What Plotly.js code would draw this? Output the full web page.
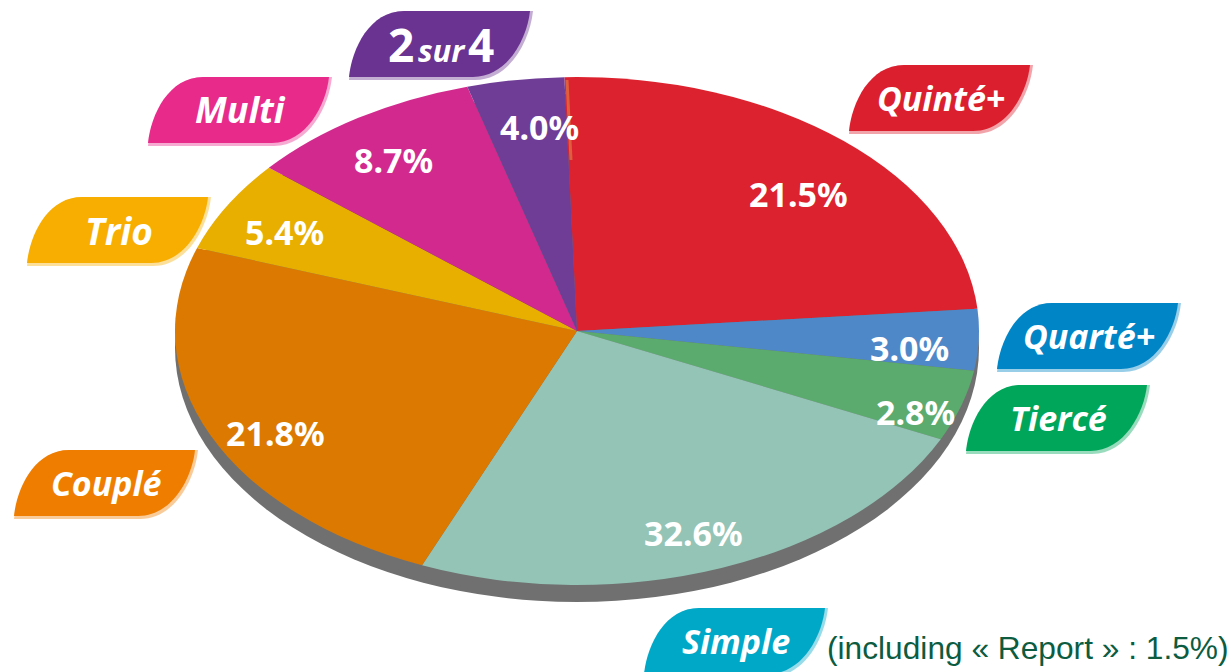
<!DOCTYPE html>
<html>
<head>
<meta charset="utf-8">
<script src="https://cdn.plot.ly/plotly-3.0.1.min.js"></script>
<style>
    html, body { margin: 0; padding: 0; background: #fff; }
    #chart { width: 1232px; height: 672px; }
</style>
</head>
<body>
<div id="chart"></div>
<script>
const betTypes = ["Quinté+", "Quarté+", "Tiercé", "Simple", "Couplé", "Trio", "Multi", "2 sur 4"];
// printed percentages
const percentLabels = ["21.5%", "3.0%", "2.8%", "32.6%", "21.8%", "5.4%", "8.7%", "4.0%"];
// the drawn wedges do not follow the printed numbers, so these are the shares as drawn
const drawnShares = [24.1, 3.9, 4.5, 24.3, 24.0, 5.8, 9.5, 3.9];
const startAngle = -1.8;

const sliceColors = ["#dc222e", "#4f88c9", "#5cab6e", "#94c4b6", "#dc7900", "#e8ae00", "#d2298e", "#6f3d96"];
const badgeColors = ["#dc1f2e", "#0085c7", "#00a65a", "#00a8c8", "#ef7d00", "#f7ae00", "#e82a8b", "#6a3291"];

// pixel layout of the picture
const badgeLeftTop = [[849, 65], [997, 303], [966, 385], [644, 608], [14, 450], [27, 197], [148, 77], [349, 11]];
const badgeFontSizes = [34, 34, 34, 34, 34, 37, 36, 31];
const percentCenters = [[798, 194], [909, 348], [915, 412], [693, 533], [275, 433], [284, 232], [393, 160], [539, 127]];
const ellipse = { cx: 577, cy: 331, rx: 402, ry: 254, shadow: 17 };

const px = x => x / 1232;
const py = y => 1 - y / 672;

function badgePath(left, top, w, h) {
    const p = (x, y) => px(left + x * w) + "," + py(top + y * h);
    return "M" + p(0, 1) + " C" + p(0.016, 0.57) + " " + p(0.114, 0) + " " + p(0.304, 0) +
        " L" + p(1, 0) + " C" + p(0.984, 0.42) + " " + p(0.875, 1) + " " + p(0.685, 1) + " Z";
}

const shapes = [];
badgeLeftTop.forEach(function (pos, i) {
    // pale edge under each badge
    shapes.push({
        type: "path", xref: "paper", yref: "paper",
        path: badgePath(pos[0], pos[1], 184, 69),
        fillcolor: badgeColors[i], opacity: 0.4, line: { width: 0 }
    });
    shapes.push({
        type: "path", xref: "paper", yref: "paper",
        path: badgePath(pos[0], pos[1], 181, 66),
        fillcolor: badgeColors[i], line: { width: 0 }
    });
});
// orange smear on the 2 sur 4 / Quinté+ edge
shapes.push({
    type: "line", xref: "paper", yref: "paper",
    x0: px(567), y0: py(80), x1: px(571), y1: py(160),
    line: { color: "#e0884a", width: 3 }, opacity: 0.6
});

const badgeText = betTypes.map(function (name) {
    if (name === "2 sur 4") {
        const gap = '<span style="font-size:14px"> </span>';
        return '<b><span style="font-size:46px">2</span>' + gap + '<i>sur</i>' + gap +
            '<span style="font-size:46px">4</span></b>';
    }
    return "<b><i>" + name + "</i></b>";
});

const annotations = [];
percentLabels.forEach(function (txt, i) {
    annotations.push({
        xref: "paper", yref: "paper", showarrow: false,
        x: px(percentCenters[i][0]), y: py(percentCenters[i][1]),
        xanchor: "center", yanchor: "middle",
        text: "<b>" + txt + "</b>",
        font: { family: "Noto Sans", size: 34, color: "#fff" }
    });
});
badgeLeftTop.forEach(function (pos, i) {
    annotations.push({
        xref: "paper", yref: "paper", showarrow: false,
        x: px(pos[0] + 92), y: py(pos[1] + 33),
        xanchor: "center", yanchor: "middle",
        text: badgeText[i],
        font: { family: "Open Sans", size: badgeFontSizes[i], color: "#fff" }
    });
});
annotations.push({
    xref: "paper", yref: "paper", showarrow: false,
    x: px(825), y: py(648), xanchor: "left", yanchor: "middle",
    text: "(including « Report » : 1.5%)",
    font: { family: "Liberation Sans", size: 31.7, color: "#0b5c41" }
});

const shadowTrace = {
    type: "pie", values: [1], marker: { colors: ["#707070"] },
    textinfo: "none", hoverinfo: "skip", sort: false, showlegend: false
};
const pieTrace = {
    type: "pie",
    labels: betTypes,
    values: drawnShares,
    text: percentLabels,
    marker: { colors: sliceColors, line: { width: 0 } },
    sort: false,
    direction: "clockwise",
    rotation: startAngle,
    textinfo: "none",
    hoverinfo: "label+text",
    showlegend: false
};

const layout = {
    width: 1232,
    height: 672,
    margin: { l: 0, r: 0, t: 0, b: 0 },
    paper_bgcolor: "#fff",
    showlegend: false,
    shapes: shapes,
    annotations: annotations
};

Plotly.newPlot("chart", [shadowTrace, pieTrace], layout, { displayModeBar: false }).then(function () {
    // Plotly pies are always round, squash each trace group to the tilted ellipse
    const groups = document.querySelectorAll("#chart .pielayer .trace");
    groups.forEach(function (g, i) {
        const box = g.getBBox();
        const sx = 2 * ellipse.rx / box.width;
        const sy = 2 * ellipse.ry / box.height;
        const tx = ellipse.cx - sx * (box.x + box.width / 2);
        const ty = ellipse.cy + (i === 0 ? ellipse.shadow : 0) - sy * (box.y + box.height / 2);
        g.setAttribute("transform", "matrix(" + sx + ",0,0," + sy + "," + tx + "," + ty + ")");
    });
});
</script>
</body>
</html>
